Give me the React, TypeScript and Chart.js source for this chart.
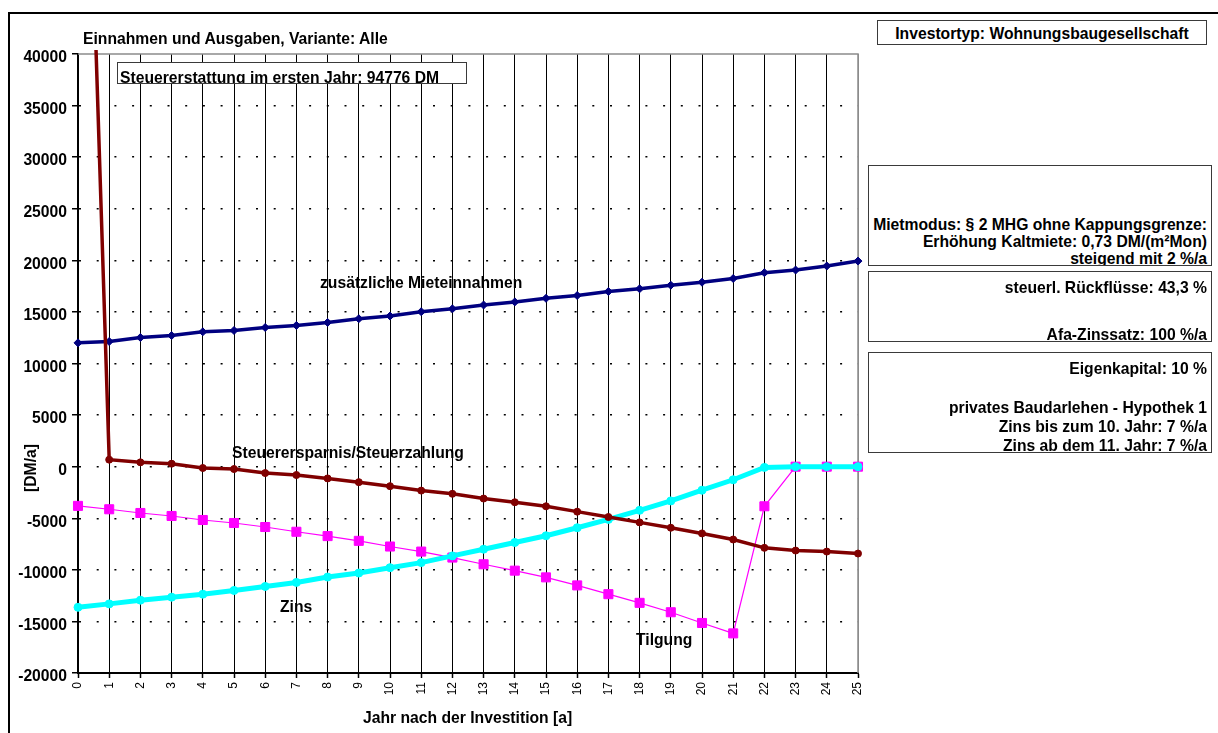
import React, { useEffect, useRef } from "react";
import { Chart, registerables } from "chart.js";

Chart.register(...registerables);

// ---------- data ----------
const years = [
  "0", "1", "2", "3", "4", "5", "6", "7", "8", "9", "10", "11", "12",
  "13", "14", "15", "16", "17", "18", "19", "20", "21", "22", "23", "24", "25",
];

const mieteinnahmen = [
  12000, 12130, 12520, 12710, 13070, 13200, 13490, 13690, 13980, 14340, 14600,
  15020, 15300, 15670, 15970, 16320, 16590, 16980, 17240, 17590, 17880, 18240,
  18800, 19060, 19450, 19930,
];

const steuer = [
  94776, 680, 420, 290, -130, -230, -620, -810, -1140, -1500, -1890, -2320,
  -2630, -3090, -3450, -3840, -4360, -4880, -5400, -5920, -6470, -7060, -7870,
  -8130, -8230, -8420,
];

const tilgung = [
  -3800, -4130, -4490, -4780, -5170, -5460, -5850, -6310, -6730, -7190, -7740,
  -8230, -8810, -9460, -10080, -10730, -11510, -12360, -13200, -14110, -15150,
  -16160, -3840, 0, 0, 0,
];

const zins = [
  -13630, -13300, -12940, -12650, -12360, -12000, -11610, -11220, -10700,
  -10310, -9790, -9300, -8650, -8000, -7350, -6700, -5920, -5110, -4230, -3320,
  -2280, -1270, -70, 0, 0, 0,
];

const yMin = -20000;
const yMax = 40000;
const yStep = 5000;

const FONT = "'Liberation Sans', Arial, Helvetica, sans-serif";
const FS = 15.7;

// ---------- helpers ----------
type Line = { text: string; cy: number };

function TextAt(props: { text: string; left: number; cy: number }) {
  return (
    <div
      style={{
        position: "fixed",
        left: props.left,
        top: props.cy - 8.8,
        font: `bold ${FS}px ${FONT}`,
        lineHeight: "18px",
        whiteSpace: "nowrap",
        color: "#000",
      }}
    >
      {props.text}
    </div>
  );
}

function Box(props: {
  left: number;
  top: number;
  width: number;
  height: number;
  lines: Line[];
  align: "left" | "right" | "center";
}) {
  const { left, top, width, height, lines, align } = props;
  return (
    <div
      style={{
        position: "fixed",
        left,
        top,
        width,
        height,
        boxSizing: "border-box",
        border: "1px solid #3a3a3a",
        background: "#fff",
        overflow: "hidden",
      }}
    >
      {lines.map((l, i) => (
        <div
          key={i}
          style={{
            position: "absolute",
            left: align === "left" ? 2 : 0,
            right: align === "right" ? 4 : 0,
            top: l.cy - 8.8 - top - 1,
            textAlign: align,
            font: `bold ${FS}px ${FONT}`,
            lineHeight: "18px",
            whiteSpace: "nowrap",
            color: "#000",
          }}
        >
          {l.text}
        </div>
      ))}
    </div>
  );
}

const plotFrame = {
  id: "plotFrame",
  beforeDatasetsDraw(chart: any) {
    const { ctx, chartArea: a } = chart;
    ctx.save();
    ctx.strokeStyle = "#8c8c8c";
    ctx.lineWidth = 1.5;
    ctx.beginPath();
    ctx.moveTo(a.left, a.top);
    ctx.lineTo(a.right, a.top);
    ctx.lineTo(a.right, a.bottom);
    ctx.stroke();
    ctx.restore();
  },
};

function ChartCanvas() {
  const ref = useRef<HTMLCanvasElement | null>(null);

  useEffect(() => {
    if (!ref.current) return;
    const clip = { left: 8, top: 4, right: 8, bottom: 8 };
    const chart = new Chart(ref.current, {
      type: "line",
      data: {
        labels: years,
        datasets: [
          {
            label: "Steuerersparnis/Steuerzahlung",
            data: steuer,
            borderColor: "#800000",
            backgroundColor: "#800000",
            borderWidth: 3.5,
            pointStyle: "circle",
            pointRadius: 3.5,
            pointBorderWidth: 1,
            tension: 0,
            clip,
          },
          {
            label: "zusätzliche Mieteinnahmen",
            data: mieteinnahmen,
            borderColor: "#000080",
            backgroundColor: "#000080",
            borderWidth: 3.5,
            pointStyle: "rectRot",
            pointRadius: 4,
            pointBorderWidth: 1,
            tension: 0,
            clip,
          },
          {
            label: "Zins",
            data: zins,
            borderColor: "#00FFFF",
            backgroundColor: "#00FFFF",
            borderWidth: 5,
            pointStyle: "circle",
            pointRadius: 4,
            pointBorderWidth: 1,
            tension: 0,
            clip,
          },
          {
            label: "Tilgung",
            data: tilgung,
            borderColor: "#FF00FF",
            backgroundColor: "#FF00FF",
            borderWidth: 1.2,
            pointStyle: "rect",
            pointRadius: 6.4,
            pointBorderWidth: 1,
            tension: 0,
            clip,
          },
        ],
      },
      options: {
        animation: false,
        responsive: false,
        maintainAspectRatio: false,
        layout: {
          autoPadding: false,
          padding: { left: 0, top: 54, right: 360, bottom: 0 },
        },
        plugins: {
          legend: { display: false },
          title: { display: false },
          tooltip: { enabled: false },
        },
        scales: {
          x: {
            type: "category",
            offset: false,
            afterFit: (s: any) => {
              s.height = 60;
            },
            grid: {
              color: (c: any) => (c.index === years.length - 1 ? "#8c8c8c" : "#000"),
              lineWidth: 1,
              tickLength: 5,
              tickColor: "#000",
              tickWidth: 1.5,
            },
            border: { display: true, color: "#000", width: 2 },
            ticks: {
              autoSkip: false,
              minRotation: 90,
              maxRotation: 90,
              padding: 4,
              color: "#000",
              font: { family: FONT, size: 12, weight: "normal" },
            },
          },
          y: {
            type: "linear",
            min: yMin,
            max: yMax,
            afterFit: (s: any) => {
              s.width = 78;
            },
            ticks: {
              stepSize: yStep,
              padding: 5,
              labelOffset: 4,
              color: "#000",
              font: { family: FONT, size: FS, weight: "bold" },
              callback: (v: any) => String(v),
            },
            grid: {
              color: (c: any) =>
                c.tick && (c.tick.value === yMax || c.tick.value === yMin)
                  ? "rgba(0,0,0,0)"
                  : "#000",
              lineWidth: 1.5,
              tickLength: 6,
              tickColor: "#000",
              tickWidth: 1.5,
            },
            border: { display: true, color: "#000", width: 2, dash: [2, 15.7] },
          },
        },
      },
      plugins: [plotFrame],
    } as any);
    return () => chart.destroy();
  }, []);

  return (
    <canvas
      ref={ref}
      width={1218}
      height={733}
      style={{ position: "fixed", left: 0, top: 0, width: 1218, height: 733, display: "block" }}
    />
  );
}

export default function App() {
  return (
    <div>
      <div
        style={{
          position: "fixed",
          left: 8,
          top: 12,
          width: 1400,
          height: 900,
          borderTop: "2px solid #000",
          borderLeft: "2px solid #000",
          background: "#fff",
        }}
      />
      <ChartCanvas />
      <TextAt text="Einnahmen und Ausgaben, Variante:  Alle" left={83} cy={39} />
      <TextAt text="zusätzliche Mieteinnahmen" left={320} cy={283} />
      <TextAt text="Steuerersparnis/Steuerzahlung" left={232} cy={453} />
      <TextAt text="Zins" left={280} cy={607} />
      <TextAt text="Tilgung" left={636} cy={640} />
      <TextAt text="Jahr nach der Investition [a]" left={363} cy={718} />
      <div
        style={{
          position: "fixed",
          left: 31 - 40,
          top: 468 - 9,
          width: 80,
          height: 18,
          textAlign: "center",
          font: `bold ${FS}px ${FONT}`,
          lineHeight: "18px",
          transform: "rotate(-90deg)",
          whiteSpace: "nowrap",
        }}
      >
        [DM/a]
      </div>
      <Box
        left={117}
        top={62}
        width={350}
        height={22}
        align="left"
        lines={[{ text: "Steuererstattung im ersten Jahr: 94776 DM", cy: 77.5 }]}
      />
      <Box
        left={877}
        top={20}
        width={330}
        height={25}
        align="center"
        lines={[{ text: "Investortyp: Wohnungsbaugesellschaft", cy: 33.5 }]}
      />
      <Box
        left={868}
        top={165}
        width={344}
        height={101}
        align="right"
        lines={[
          { text: "Mietmodus: § 2 MHG ohne Kappungsgrenze:", cy: 225 },
          { text: "Erhöhung Kaltmiete: 0,73 DM/(m²Mon)", cy: 242 },
          { text: "steigend mit 2 %/a", cy: 259 },
        ]}
      />
      <Box
        left={868}
        top={271}
        width={344}
        height={71}
        align="right"
        lines={[
          { text: "steuerl. Rückflüsse:  43,3 %", cy: 287.5 },
          { text: "Afa-Zinssatz:  100 %/a", cy: 335 },
        ]}
      />
      <Box
        left={868}
        top={352}
        width={344}
        height={101}
        align="right"
        lines={[
          { text: "Eigenkapital: 10 %", cy: 369 },
          { text: "privates Baudarlehen - Hypothek 1", cy: 408 },
          { text: "Zins bis zum  10. Jahr: 7 %/a", cy: 427 },
          { text: "Zins ab dem 11. Jahr: 7 %/a", cy: 446 },
        ]}
      />
    </div>
  );
}
